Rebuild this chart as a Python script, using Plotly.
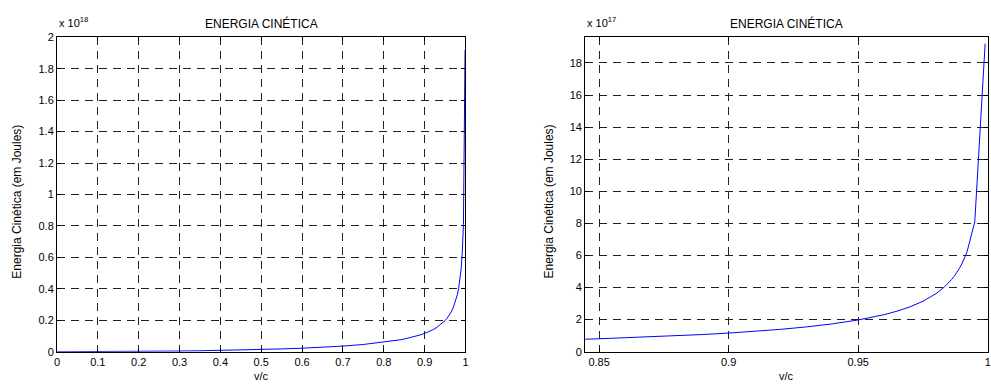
import plotly.graph_objects as go

# ---- data ----
v_over_c = [0, 0.05, 0.1, 0.15, 0.2, 0.25, 0.3, 0.35, 0.4, 0.45, 0.5, 0.55, 0.6,
            0.65, 0.7, 0.75, 0.8, 0.81, 0.82, 0.83, 0.84, 0.85, 0.86, 0.87, 0.88,
            0.89, 0.9, 0.91, 0.92, 0.93, 0.94, 0.95, 0.955, 0.96, 0.965, 0.97,
            0.975, 0.98, 0.983, 0.985, 0.986, 0.987, 0.988, 0.989, 0.99, 0.991,
            0.992, 0.995, 0.999]
# kinetic energy in units of 1e17 J
energy_e17 = [0, 0.001125, 0.004528, 0.010284, 0.018533, 0.029476, 0.043397,
              0.060685, 0.081866, 0.107657, 0.139038, 0.177386, 0.224689,
              0.283920, 0.359753, 0.460037, 0.599170, 0.633834, 0.671500,
              0.712596, 0.757693, 0.807362, 0.862487, 0.924096, 0.993461,
              1.072363, 1.163126, 1.268960, 1.394459, 1.546435, 1.735537,
              1.979558, 2.131379, 2.311084, 2.528341, 2.798227, 3.145926,
              3.617630, 3.996225, 4.309790, 4.491184, 4.693300, 4.920169,
              5.177370, 5.472317, 5.815400, 6.220700, 8.099943, 19.203276]

title_text = "ENERGIA CINÉTICA"
xlabel_text = "v/c"
ylabel_text = "Energia Cinética (em Joules)"

left_xticks = [0, 0.1, 0.2, 0.3, 0.4, 0.5, 0.6, 0.7, 0.8, 0.9, 1]
left_xticklabels = ["0", "0.1", "0.2", "0.3", "0.4", "0.5", "0.6", "0.7", "0.8", "0.9", "1"]
left_yticks = [0, 2, 4, 6, 8, 10, 12, 14, 16, 18, 20]
left_yticklabels = ["0", "0.2", "0.4", "0.6", "0.8", "1", "1.2", "1.4", "1.6", "1.8", "2"]
right_xticks = [0.85, 0.9, 0.95, 1]
right_xticklabels = ["0.85", "0.9", "0.95", "1"]
right_yticks = [0, 2, 4, 6, 8, 10, 12, 14, 16, 18]
right_yticklabels = ["0", "2", "4", "6", "8", "10", "12", "14", "16", "18"]

FONT = "Liberation Sans, Arial, sans-serif"
W, H = 991, 390

fig = go.Figure()
fig.add_trace(go.Scatter(x=v_over_c, y=energy_e17, mode="lines",
                         line=dict(color="#0000ff", width=1),
                         xaxis="x", yaxis="y", showlegend=False, hoverinfo="skip"))
fig.add_trace(go.Scatter(x=v_over_c, y=energy_e17, mode="lines",
                         line=dict(color="#0000ff", width=1),
                         xaxis="x2", yaxis="y2", showlegend=False, hoverinfo="skip"))

def ax(**kw):
    base = dict(showline=True, linecolor="black", linewidth=1, mirror="allticks",
                ticks="inside", ticklen=4, tickcolor="black",
                showgrid=True, gridcolor="#222", gridwidth=1, griddash="8px,6px",
                zeroline=False, tickfont=dict(family=FONT, size=11, color="black"),
                tickmode="array")
    base.update(kw)
    return base

ydom = [33.3 / H, 357.7 / H]
lx0, lx1 = 54.3 / W, 465.3 / W
rx0, rx1 = 585.7 / W, 1.0

fig.update_layout(
    width=W, height=H,
    margin=dict(l=0, r=0, t=0, b=0),
    paper_bgcolor="white", plot_bgcolor="white",
    xaxis=ax(domain=[lx0, lx1], range=[0, 1], tickvals=left_xticks,
             ticktext=left_xticklabels, anchor="y"),
    yaxis=ax(domain=ydom, range=[0, 20], tickvals=left_yticks,
             ticktext=left_yticklabels, anchor="x"),
    xaxis2=ax(domain=[rx0, rx1], range=[0.8446, 1.0001], tickvals=right_xticks,
              ticktext=right_xticklabels, anchor="y2"),
    yaxis2=ax(domain=ydom, range=[0, 19.6], tickvals=right_yticks,
              ticktext=right_yticklabels, anchor="x2"),
)

f11 = dict(family=FONT, size=11, color="black")
f12 = dict(family=FONT, size=12, color="black")
ann = []
for (x0, x1, mult) in [(lx0, lx1, "18"), (rx0, 990.7 / W, "17")]:
    cx = (x0 + x1) / 2
    ann.append(dict(text=title_text, x=cx, y=1 - 18 / H, xref="paper", yref="paper",
                    xanchor="center", yanchor="middle", showarrow=False, font=f12))
    ann.append(dict(text=xlabel_text, x=cx, y=1 - 382 / H, xref="paper", yref="paper",
                    xanchor="center", yanchor="middle", showarrow=False, font=f11))
    ann.append(dict(text="x 10<sup>" + mult + "</sup>", x=x0, y=1 - 17 / H,
                    xref="paper", yref="paper", xanchor="left", yanchor="middle",
                    showarrow=False, font=f11))
ann.append(dict(text=ylabel_text, x=14 / W, y=1 - 202 / H, xref="paper", yref="paper",
                xanchor="center", yanchor="middle", textangle=-90, showarrow=False, font=f12))
ann.append(dict(text=ylabel_text, x=549 / W, y=1 - 202 / H, xref="paper", yref="paper",
                xanchor="center", yanchor="middle", textangle=-90, showarrow=False, font=f12))
fig.update_layout(annotations=ann)

fig.write_html("out.html", config={"displayModeBar": False},
               post_script="document.body.style.margin='0';document.body.style.overflow='hidden';")
